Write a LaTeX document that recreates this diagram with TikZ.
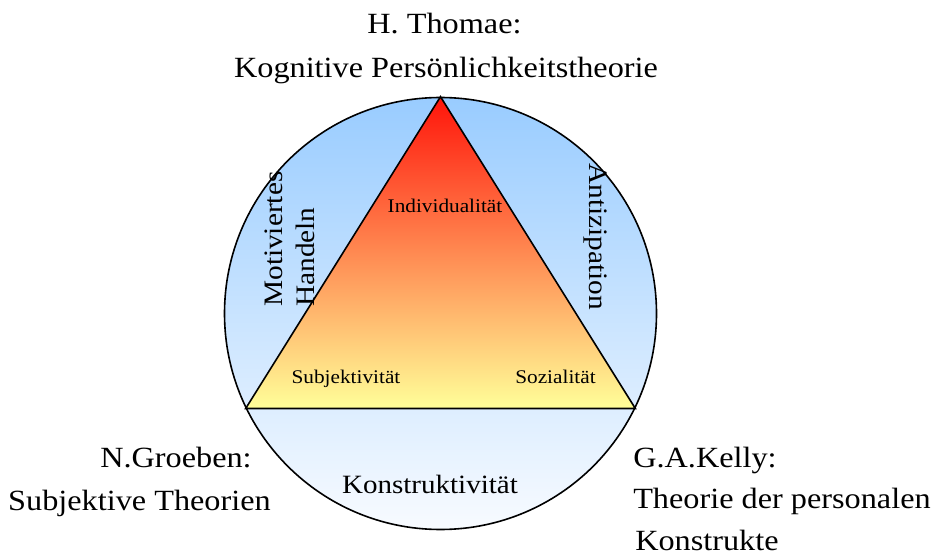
\documentclass[tikz,border=0pt]{standalone}
\usepackage{fontspec}
\setmainfont{Liberation Serif}
\newfontfamily\breitserif[FakeStretch=1.1]{Liberation Serif}
\usepackage{xcolor}
\usepackage{tikz}
\usetikzlibrary{shapes}

\definecolor{kreisoben}{RGB}{153,204,255}
\definecolor{kreisunten}{RGB}{248,251,255}
\definecolor{spitzerot}{RGB}{255,20,10}
\definecolor{mitteorange}{RGB}{250,165,100}
\definecolor{basisgelb}{RGB}{255,255,153}

\begin{document}
\begin{tikzpicture}[x=0.75pt,y=-0.75pt,
    titel/.style={font=\breitserif\fontsize{22}{26}\selectfont, inner sep=0pt, anchor=base},
    pol/.style={font=\breitserif\fontsize{14.5}{17}\selectfont, inner sep=0pt, anchor=base},
    seite/.style={font=\breitserif\fontsize{20}{24}\selectfont, inner sep=0pt}]
    \useasboundingbox (0,0) rectangle (932,556);
    \node[circle, draw, line width=1.2pt, minimum size=324pt, top color=kreisoben, bottom color=kreisunten] (kreis) at (440.5,313.5) {};
    \coordinate (spitze) at (kreis.north);
    \coordinate (links) at (kreis.206.5);
    \coordinate (rechts) at (kreis.-26.5);
    \draw[line width=1.2pt, top color=spitzerot, middle color=mitteorange, bottom color=basisgelb] (spitze) -- (links) -- (rechts) -- cycle;

    \node[titel] (thomae) at (444.5,34) {H. Thomae:};
    \node[titel] (kognitiv) at (446,78) {Kognitive Persönlichkeitstheorie};
    \node[titel] (groeben) at (176,467) {N.Groeben:};
    \node[titel] (subjtheorie) at (139.5,510) {Subjektive Theorien};
    \node[titel, anchor=base west] (kelly) at (633,467) {G.A.Kelly:};
    \node[titel, anchor=base west] (personal) at (633,508) {Theorie der personalen};
    \node[titel, anchor=base west] (konstrukte) at (635,550) {Konstrukte};
    \node[titel, font=\breitserif\fontsize{19.8}{24}\selectfont] (konstr) at (430,493) {Konstruktivität};

    \node[pol] (indiv) at (445,213) {Individualität};
    \node[pol] (subj) at (346,383) {Subjektivität};
    \node[pol] (sozial) at (555.5,383) {Sozialität};

    \node[seite, rotate=90, align=left, anchor=south west] (motiv) at (315,307) {Motiviertes\\Handeln};
    \node[seite, rotate=-90, anchor=base west] (antiz) at (589,163) {Antizipation};
\end{tikzpicture}
\end{document}
